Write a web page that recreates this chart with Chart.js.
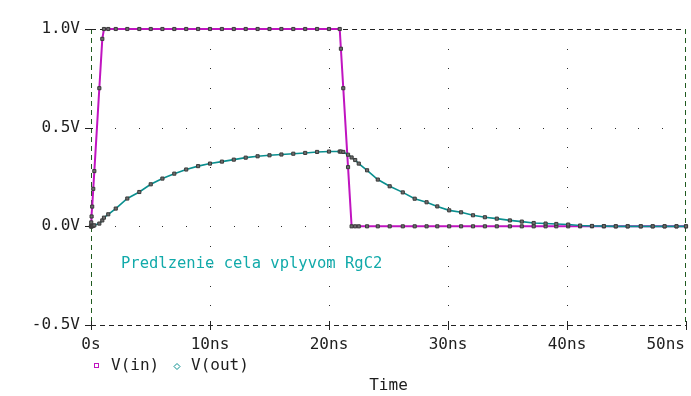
<!DOCTYPE html>
<html><head><meta charset="utf-8">
<script src="https://cdn.jsdelivr.net/npm/chart.js@4/dist/chart.umd.min.js"></script>
<style>html,body{margin:0;padding:0;background:#fff;overflow:hidden}</style>
</head><body>
<div style="width:691px;height:396px"><canvas id="c" width="691" height="396"></canvas></div>
<script>
// ---- data (time in ns, voltages in V) ----
const timeNs = [0, 0.02, 0.05, 0.1, 0.19, 0.28, 0.70, 0.95, 1.09, 1.45, 2.08, 3.05, 4.06, 5.02, 6, 7, 8, 9, 10, 11, 12, 13, 14, 15, 16, 17, 18, 19, 20, 20.9, 21.0, 21.2, 21.6, 21.9, 22.2, 22.5, 23.2, 24.1, 25.1, 26.2, 27.2, 28.2, 29.1, 30.1, 31.1, 32.1, 33.1, 34.1, 35.2, 36.2, 37.2, 38.2, 39.1, 40.1, 41.1, 42.1, 43.1, 44.1, 45.1, 46.2, 47.2, 48.2, 49.2, 50];
const vIn = [0, 0.02, 0.05, 0.1, 0.19, 0.28, 0.70, 0.95, 1, 1, 1, 1, 1, 1, 1, 1, 1, 1, 1, 1, 1, 1, 1, 1, 1, 1, 1, 1, 1, 1, 0.9, 0.7, 0.3, 0, 0, 0, 0, 0, 0, 0, 0, 0, 0, 0, 0, 0, 0, 0, 0, 0, 0, 0, 0, 0, 0, 0, 0, 0, 0, 0, 0, 0, 0, 0];
const vOut = [0, 0, 0, 0.001, 0.003, 0.005, 0.014, 0.030, 0.044, 0.061, 0.090, 0.141, 0.174, 0.213, 0.242, 0.267, 0.288, 0.305, 0.318, 0.328, 0.338, 0.348, 0.355, 0.360, 0.364, 0.368, 0.372, 0.377, 0.379, 0.379, 0.379, 0.377, 0.363, 0.349, 0.336, 0.318, 0.284, 0.237, 0.203, 0.172, 0.140, 0.122, 0.101, 0.081, 0.071, 0.056, 0.046, 0.039, 0.030, 0.024, 0.017, 0.014, 0.012, 0.009, 0.004, 0.002, 0.001, 0, 0, 0, 0, 0, 0, 0];
const xTickValues = [0, 10, 20, 30, 40, 50];
const xTickLabels = ['0s', '10ns', '20ns', '30ns', '40ns', '50ns'];
const yTickValues = [-0.5, 0, 0.5, 1.0];
const yTickLabels = ['-0.5V', '0.0V', '0.5V', '1.0V'];
const seriesNames = ['V(in)', 'V(out)'];
const annotationText = 'Predlzenie cela vplyvom RgC2';
const xAxisTitle = 'Time';

// ---- styles ----
const FONT = '16px "DejaVu Sans Mono", "Liberation Mono", monospace';
const IN_COLOR = '#c014c0';
const OUT_COLOR = '#0a8f8f';
const TEXT_COLOR = '#1e1e1e';

const pspice = {
  id: 'pspice',
  beforeDatasetsDraw(chart) {
    const {ctx, chartArea: a, scales: {x, y}} = chart;
    ctx.save();
    // dotted major grid lines (dots every 2 ns on major rows, every 0.1 V on major columns)
    ctx.fillStyle = '#2a2a2a';
    const innerX = xTickValues.slice(1, -1);
    const innerY = yTickValues.slice(1, -1);
    innerX.forEach(t => {
      for (let k = -4; k <= 9; k++) {
        ctx.fillRect(Math.round(x.getPixelForValue(t)), Math.round(y.getPixelForValue(k / 10)), 1, 1);
      }
    });
    innerY.forEach(v => {
      for (let t = 2; t < 50; t += 2) {
        ctx.fillRect(Math.round(x.getPixelForValue(t)), Math.round(y.getPixelForValue(v)), 1, 1);
      }
    });
    // dashed frame
    ctx.lineWidth = 1;
    ctx.setLineDash([5, 4]);
    ctx.strokeStyle = '#222';
    ctx.beginPath();
    ctx.moveTo(a.left, a.top + 0.5); ctx.lineTo(a.right, a.top + 0.5);
    ctx.moveTo(a.left, a.bottom + 0.5); ctx.lineTo(a.right, a.bottom + 0.5);
    ctx.stroke();
    ctx.strokeStyle = '#1f5a1f';
    ctx.beginPath();
    ctx.moveTo(a.left + 0.5, a.top); ctx.lineTo(a.left + 0.5, a.bottom);
    ctx.moveTo(a.right - 0.5, a.top); ctx.lineTo(a.right - 0.5, a.bottom);
    ctx.stroke();
    ctx.setLineDash([]);
    // tick marks
    ctx.strokeStyle = '#222';
    ctx.beginPath();
    yTickValues.forEach(v => {
      const py = Math.round(y.getPixelForValue(v)) + 0.5;
      ctx.moveTo(a.left - 6, py); ctx.lineTo(a.left + 2, py);
    });
    xTickValues.forEach(v => {
      const px = Math.round(x.getPixelForValue(v)) + 0.5;
      ctx.moveTo(px, a.bottom - 4); ctx.lineTo(px, a.bottom + 5);
    });
    ctx.stroke();
    ctx.restore();
  },
  afterDraw(chart) {
    const {ctx, chartArea: a, scales: {x, y}, width} = chart;
    ctx.save();
    ctx.font = FONT;
    ctx.fillStyle = TEXT_COLOR;
    // y tick labels
    ctx.textAlign = 'right';
    ctx.textBaseline = 'middle';
    yTickValues.forEach((v, i) => ctx.fillText(yTickLabels[i], a.left - 11, y.getPixelForValue(v)));
    // x tick labels (clamped inside canvas)
    ctx.textAlign = 'left';
    xTickValues.forEach((v, i) => {
      const w = ctx.measureText(xTickLabels[i]).width;
      let left = x.getPixelForValue(v) - w / 2;
      left = Math.min(left, width - 6 - w);
      ctx.fillText(xTickLabels[i], left, a.bottom + 20);
    });
    // axis title
    ctx.textAlign = 'center';
    ctx.fillText(xAxisTitle, (a.left + a.right) / 2, a.bottom + 61);
    // legend
    const ly = a.bottom + 41;
    ctx.lineWidth = 1;
    ctx.strokeStyle = IN_COLOR;
    ctx.strokeRect(a.left + 3.5, ly - 2.5, 4, 4);
    ctx.strokeStyle = OUT_COLOR;
    const dx = a.left + 86, dy = ly + 0.5;
    ctx.beginPath();
    ctx.moveTo(dx, dy - 3); ctx.lineTo(dx + 3, dy); ctx.lineTo(dx, dy + 3); ctx.lineTo(dx - 3, dy); ctx.closePath();
    ctx.stroke();
    ctx.textAlign = 'left';
    ctx.fillStyle = TEXT_COLOR;
    ctx.fillText(seriesNames[0], a.left + 20, ly);
    ctx.fillText(seriesNames[1], a.left + 100, ly);
    // annotation
    ctx.font = '15.5px "DejaVu Sans Mono", "Liberation Mono", monospace';
    ctx.fillStyle = '#12aaaa';
    ctx.fillText(annotationText, a.left + 30, y.getPixelForValue(-0.19));
    ctx.restore();
  }
};

const pointStyleOpts = {
  pointStyle: 'rect',
  pointRadius: 2.2,
  pointBackgroundColor: '#6e6e6e',
  pointBorderColor: '#3a3a3a',
  pointBorderWidth: 1,
};

new Chart(document.getElementById('c'), {
  type: 'line',
  data: {
    datasets: [
      Object.assign({
        label: seriesNames[0],
        data: timeNs.map((t, i) => ({x: t, y: vIn[i]})),
        borderColor: IN_COLOR,
        borderWidth: 2,
        tension: 0,
        clip: false,
        order: 2
      }, pointStyleOpts),
      Object.assign({
        label: seriesNames[1],
        data: timeNs.map((t, i) => ({x: t, y: vOut[i]})),
        borderColor: OUT_COLOR,
        borderWidth: 1.6,
        tension: 0,
        clip: false,
        order: 1
      }, pointStyleOpts)
    ]
  },
  options: {
    responsive: false,
    animation: false,
    events: [],
    layout: {padding: {left: 91, right: 5, top: 29, bottom: 71}},
    plugins: {legend: {display: false}, tooltip: {enabled: false}},
    scales: {
      x: {type: 'linear', min: 0, max: 50, display: false},
      y: {type: 'linear', min: -0.5, max: 1.0, display: false}
    }
  },
  plugins: [pspice]
});
</script>
</body></html>
